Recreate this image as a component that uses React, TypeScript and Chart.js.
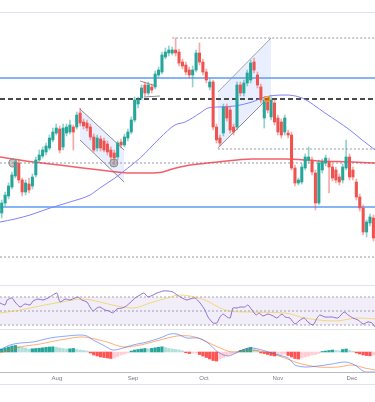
import React, { useEffect, useRef } from 'react';
import { Chart, registerables } from 'chart.js';

Chart.register(...registerables);

// ---- candles (arbitrary price units) ----
const candleOpen = [87,97,104,113,124,137,120,108,116,114, 125,140,144,148,152,160,167,171,153,167, 168,173,173,187,178,177,173,163,152,161, 159,156,150,147,143,158,155,162,168,180, 196,202,215,207,213,213,225,228,243,247, 247,250,248,238,235,230,225,230,247,238, 228,213,218,173,162,167,193,190,173,173, 215,207,217,220,238,225,213,182,200,183, 197,182,178,168,167,165,132,117,118,132, 140,140,127,97,130,137,138,133,130,123, 120,132,143,130,118,103,92,68,77,82];
const candleClose = [97,105,114,125,138,120,108,117,110,123, 140,145,150,154,162,168,172,150,172,173, 175,168,185,177,174,172,163,150,162,152, 150,148,143,142,157,155,163,168,180,200, 200,212,207,215,210,226,230,245,248,250, 250,247,237,234,228,225,230,247,238,228, 220,218,173,160,157,193,182,170,168,215, 207,217,227,237,230,215,200,200,190,200, 178,168,165,182,165,132,117,120,133,143, 143,128,97,137,138,142,133,122,120,118, 133,143,123,123,103,92,68,78,83,62];
const candleHigh = [100,108,117,128,140,140,122,120,122,126, 143,150,153,157,165,172,176,174,176,176, 180,175,188,192,181,180,176,166,165,164, 162,159,153,150,159,161,166,171,183,203, 203,215,218,218,216,229,233,248,252,254, 253,262,251,241,238,233,234,250,257,241, 231,221,220,176,165,196,196,193,176,218, 218,220,230,240,242,228,216,203,203,203, 200,185,181,185,170,168,135,122,136,146, 153,143,130,140,141,145,142,136,133,126, 136,160,146,133,121,106,95,80,86,85];
const candleLow = [82,94,101,111,122,117,104,105,107,111, 123,138,142,145,150,158,165,147,150,164, 166,150,171,174,171,169,160,148,149,149, 148,145,140,135,140,152,153,159,166,178, 192,200,204,205,207,211,223,226,241,244, 245,244,234,231,225,222,213,228,235,225, 217,210,170,157,154,164,179,167,165,170, 204,204,214,217,227,212,197,172,187,180, 175,165,162,165,162,130,114,115,116,130, 137,125,90,95,127,134,107,119,117,115, 117,130,120,120,100,89,65,63,74,59];

// ---- moving averages [bar index, value] ----
const maFast = [[-0.5,78],[3.9,81],[8.3,85],[14.2,92],[20,98],[25.9,105],[28.8,112],[33.2,122],[37,132],[40.6,142],[46.4,162],[50.8,175],[53.8,178],[58.2,187],[60.5,192],[63.4,193],[68.4,194],[73.4,198],[77.2,203],[83.1,205],[88.1,202],[94.8,187],[102.1,170],[105.7,160],[109.5,150]];
const maSlow = [[-0.5,143],[9.3,138],[19.2,134],[28.8,130],[33.8,128],[37,127],[42.6,127],[47.3,128],[50,131],[53.8,134],[63.4,138],[73.4,141],[83.1,141],[92.8,139],[102.7,138],[109.5,137]];

// ---- drawn levels (value, start index) ----
const blueLevels = [222, 93];
const dashedLevel = 201;
const dottedLevels = [[262, 50], [151, 63.4], [137, -0.5], [43, -0.5]];

// ---- drawings ----
const descUpper = [[22.96,191],[35.9,150]];
const descLower = [[22.96,160],[35.9,118]];
const riseUpper = [[63.4,208],[79,262]];
const riseLower = [[63.4,152],[79,205]];
const flagUpper = [[40.6,219],[45.2,214]];
const flagLower = [[41.7,203],[46.4,204]];
const circleMarks = [[3.3,137],[32.9,137]];
const boxMarks = [[77.8,201]];

// ---- RSI ----
const rsiLine = [[-0.5,61.4],[1,58.6],[1.6,65.7],[3,68.6],[3.9,62.9],[5.4,55.7],[6.8,60],[8.3,58.6],[9.2,64.3],[10.6,67.1],[12.1,65.7],[13.6,68.6],[15,72.9],[16.2,75.7],[17.1,62.9],[18.6,67.1],[20,65.7],[21.5,68.6],[22.4,70],[23.5,65.7],[25,62.9],[25.9,55.7],[26.8,50],[27.9,54.3],[28.8,55.7],[30.3,51.4],[31.5,50],[32.6,47.1],[33.8,52.9],[35.3,54.3],[36.5,57.1],[37.9,62.9],[39.1,68.6],[40.6,72.9],[41.7,75.7],[42.9,70],[44.4,72.9],[45.5,75.7],[46.4,77.1],[47.3,78.6],[48.8,78.6],[50.2,77.1],[51.4,72.9],[52.9,68.6],[54.3,65.7],[55.2,67.1],[56.7,68.6],[58.2,61.4],[59.6,51.4],[60.5,41.4],[62,32.9],[63.1,32.9],[64,41.4],[64.9,45.7],[66.1,41.4],[67,40],[67.8,54.3],[69,54.3],[69.9,55.7],[71.3,55.7],[72.2,58.6],[73.4,51.4],[74.6,44.3],[75.5,47.1],[76.6,42.9],[78.1,45.7],[79.6,42.9],[80.7,40],[82.2,45.7],[83.1,41.4],[84.5,40],[86,31.4],[87.5,37.1],[88.7,40],[89.8,34.3],[91.3,30],[92.5,40],[93.3,44.3],[94.8,41.4],[96.9,41.4],[98.6,40],[100.4,48.6],[101.6,44.3],[103,40],[104.5,37.1],[106,31.4],[107.4,34.3],[108.6,32.9],[109.5,27.1]];
const rsiAvg = [[-0.5,47.1],[5.4,51.4],[11.2,57.1],[19.1,64.3],[23.8,67.1],[28.8,62.9],[33.8,57.1],[38.5,54.3],[43.5,61.4],[48.5,68.6],[52.3,72.9],[55.2,71.4],[59.6,65.7],[65.5,51.4],[71.3,48.6],[83.1,47.1],[88.9,40],[97.7,35.7],[104.5,40],[109.5,38.6]];
const rsiBands = [70, 50, 30];

// ---- MACD ----
const macdLine = [[-0.5,2],[2.4,7],[5.4,9],[9.2,10],[14.2,14],[19.1,16],[23,17],[25,16],[26.8,12],[29.7,7],[32.6,2],[35.6,4],[38.5,7],[42.6,10],[46.4,14],[49.4,18],[51.4,18],[54.3,14],[57.6,14],[60.5,9],[63.4,0],[66.4,-4],[69.3,0],[72.2,4],[73.7,4],[76.3,2],[80.1,-2],[84,-6],[86,-13],[88.9,-15],[92.8,-14],[96.9,-12],[100.7,-10],[103.6,-13],[106.5,-20],[109.5,-20]];
const signalLine = [[-0.5,-1],[5.4,5],[11.2,8],[17.1,12],[23,15],[25.9,14],[30.9,10],[35.6,5],[40.6,7],[46.4,12],[51.4,16],[55.2,16],[57.6,14],[63.4,5],[67.5,0],[72.2,2],[77.2,0],[82.2,-5],[86.9,-11],[92.8,-15],[98.6,-15],[102.7,-13],[106.5,-16],[109.5,-18]];
const macdHist = [3,4,5,6,6.5, 5.5,4.5,4,3, 3.2,3.5,3.8, 4.2,4.6,5,5.2,4.8, 4,3.5,3, 3.2,3.5, 2.5,2,1.5,1, -1,-3, -4,-5,-5.5,-6,-6.5,-6, -4.5,-3,-2,-1, 1,2,2.5,3,3.5, 3.2,3.6,4.2,4.8,5.2,4.5,3.5,3,2.5,2,1.2, -0.8,-1.5,-1.2,-1,-2.5,-4,-5.5,-7,-8.5,-9,-7,-5.5,-4,-2.5,-1.5,-1, 1.5,2.5,3.5,4.5,3,2, -1,-1.5,-2.5,-3.5,-4,-3,-2.5,-2,-3.5,-5,-6.5,-7,-6,-5,-4,-3,-2.5,-1.5, 0.5,1,1.5,2,1.5,1.2,2.5,3,1.5,0.8, -1,-2,-3,-3.5,-3.8,-3];

// ---- time axis ----
const tickLabels = ['Aug', 'Sep', 'Oct', 'Nov', 'Dec'];
const tickIndex = [16.2, 38.5, 59.3, 81, 102.7];

const X_MIN = -0.5;
const X_MAX = 109.47;
const FONT = 'Liberation Sans';

const pts = (a: number[][]) => a.map(([x, y]) => ({ x, y }));
const hl = (y: number, x0 = X_MIN) => [{ x: x0, y }, { x: X_MAX + 1, y }];

const line = (data: any[], color: string, width: number, extra: any = {}) => ({
  type: 'line', data, borderColor: color, borderWidth: width, pointRadius: 0, tension: 0, order: 3, ...extra,
});

const xHidden = { type: 'linear', min: X_MIN, max: X_MAX, display: false, offset: false };

const borders = (ys: (c: any) => { y: number; color: string }[]) => ({
  id: 'paneBorders',
  afterDraw(chart: any) {
    const { ctx, width } = chart;
    ctx.save();
    ctx.lineWidth = 1;
    for (const l of ys(chart)) {
      ctx.strokeStyle = l.color;
      ctx.beginPath();
      ctx.moveTo(0, l.y);
      ctx.lineTo(width, l.y);
      ctx.stroke();
    }
    ctx.restore();
  },
});

const common = {
  animation: false,
  responsive: true,
  maintainAspectRatio: false,
  events: [],
  plugins: { legend: { display: false }, tooltip: { enabled: false } },
};

export default function App() {
  const mainRef = useRef<HTMLCanvasElement>(null);
  const rsiRef = useRef<HTMLCanvasElement>(null);
  const macdRef = useRef<HTMLCanvasElement>(null);

  useEffect(() => {
    const idx = candleOpen.map((_, i) => i);
    const up = (i: number) => candleClose[i] >= candleOpen[i];

    const main = new Chart(mainRef.current!, {
      type: 'bar',
      data: {
        datasets: [
          {
            type: 'bar', data: idx.map((i) => ({ x: i, y: [candleOpen[i], candleClose[i]] })),
            backgroundColor: (c: any) => (up(c.dataIndex) ? '#26a69a' : '#ef5350'),
            barThickness: 2.4, grouped: false, minBarLength: 1, order: 1,
          },
          {
            type: 'bar', data: idx.map((i) => ({ x: i, y: [candleLow[i], candleHigh[i]] })),
            backgroundColor: (c: any) => (up(c.dataIndex) ? 'rgba(38,166,154,0.5)' : 'rgba(239,83,80,0.5)'),
            barThickness: 1, grouped: false, order: 2,
          },
          line(pts(maFast), '#8080ff', 1, { tension: 0.4, cubicInterpolationMode: 'monotone' }),
          line(pts(maSlow), 'rgba(242,54,69,0.8)', 1.5, { tension: 0.4, cubicInterpolationMode: 'monotone' }),
          ...blueLevels.map((v) => line(hl(v), '#5c9df5', 1.3, { order: 4 })),
          line(hl(dashedLevel), '#4a4a4a', 2, { borderDash: [5, 3], order: 4 }),
          ...dottedLevels.map(([v, x0]) => line(hl(v, x0), '#9598a1', 1, { borderDash: [2, 2], order: 4 })),
          line(pts(descUpper), '#8a8d96', 1, { order: 5 }),
          line(pts(descLower), '#8a8d96', 1, { order: 5, fill: '-1', backgroundColor: 'rgba(41,98,255,0.1)' }),
          line(pts(riseUpper), '#a0a3ab', 1, { order: 5 }),
          line(pts(riseLower), '#8a8d96', 1, { order: 5, fill: '-1', backgroundColor: 'rgba(41,98,255,0.1)' }),
          line(pts(flagUpper), '#8a8d96', 1, { order: 5 }),
          line(pts(flagLower), '#8a8d96', 1, { order: 5 }),
          {
            type: 'line', data: pts(circleMarks), showLine: false, pointRadius: 4,
            pointBackgroundColor: 'rgba(130,130,130,0.45)', pointBorderColor: '#8a8a8a', pointBorderWidth: 1, order: 0,
          },
          {
            type: 'line', data: pts(boxMarks), showLine: false, pointRadius: 3.5, pointStyle: 'rect',
            pointBackgroundColor: 'rgba(255,152,0,0.3)', pointBorderColor: '#f59a23', pointBorderWidth: 1, order: 0,
          },
        ] as any,
      },
      options: {
        ...common,
        layout: { autoPadding: false, padding: { top: 12, left: 0, right: 0, bottom: 0 } },
        scales: { x: xHidden as any, y: { display: false, min: 15, max: 288 } },
      } as any,
      plugins: [borders((c) => [{ y: Math.round(c.chartArea.top) + 0.5, color: '#e0e3eb' }])],
    });

    const rsi = new Chart(rsiRef.current!, {
      type: 'line',
      data: {
        datasets: [
          line(hl(rsiBands[0]), '#a3a6af', 1, { borderDash: [2, 2], order: 5 }),
          line(hl(rsiBands[2]), '#a3a6af', 1, { borderDash: [2, 2], order: 5, fill: { target: { value: rsiBands[0] } }, backgroundColor: 'rgba(126,87,194,0.1)' }),
          line(hl(rsiBands[1]), '#a3a6af', 1, { borderDash: [2, 2], order: 5 }),
          line(pts(rsiAvg), 'rgba(240,200,40,0.6)', 1, { tension: 0.4, cubicInterpolationMode: 'monotone', order: 2 }),
          line(pts(rsiLine), '#8e6fcf', 1, { tension: 0.2, order: 1 }),
        ] as any,
      },
      options: {
        ...common,
        layout: { autoPadding: false, padding: 0 },
        scales: { x: xHidden as any, y: { display: false, min: 24.29, max: 87.14 } },
      } as any,
      plugins: [borders(() => [{ y: 0.5, color: '#e0e3eb' }])],
    });

    const histColor = (c: any) => {
      const i = c.dataIndex;
      const v = macdHist[i];
      const p = i > 0 ? macdHist[i - 1] : 0;
      if (v >= 0) return v >= p ? '#26a69a' : '#b2dfdb';
      return v <= p ? '#ff5252' : '#ffcdd2';
    };

    const macd = new Chart(macdRef.current!, {
      type: 'bar',
      data: {
        datasets: [
          line(pts(macdLine), 'rgba(41,98,255,0.55)', 1, { tension: 0.3, order: 1 }),
          line(pts(signalLine), 'rgba(255,109,0,0.55)', 1, { tension: 0.3, order: 2 }),
          {
            type: 'bar', data: macdHist.map((v, i) => ({ x: i, y: v })),
            backgroundColor: histColor, barThickness: 2.6, grouped: false, order: 3,
          },
        ] as any,
      },
      options: {
        ...common,
        layout: { autoPadding: false, padding: 0 },
        scales: {
          x: {
            type: 'linear', min: X_MIN, max: X_MAX, offset: false,
            grid: { display: false, drawTicks: false },
            border: { display: false },
            afterBuildTicks: (s: any) => { s.ticks = tickIndex.map((v) => ({ value: v })); },
            afterFit: (s: any) => { s.height = 13; },
            ticks: {
              autoSkip: false, maxRotation: 0, padding: 3, color: '#787b86',
              font: { size: 6, family: FONT },
              callback: (v: any) => { const k = tickIndex.indexOf(v); return k >= 0 ? tickLabels[k] : ''; },
            },
          },
          y: { display: false, min: -20, max: 23 },
        },
      } as any,
      plugins: [borders((c) => [
        { y: 0.5, color: '#e0e3eb' },
        { y: Math.round(c.chartArea.bottom) + 0.5, color: '#b8bbc2' },
        { y: c.height - 0.5, color: '#e0e3eb' },
      ])],
    });

    return () => { main.destroy(); rsi.destroy(); macd.destroy(); };
  }, []);

  return (
    <div style={{ position: 'absolute', left: 0, top: 0, width: 375, height: 402, background: '#ffffff' }}>
      <div style={{ position: 'relative', width: 375, height: 285 }}><canvas ref={mainRef} /></div>
      <div style={{ position: 'relative', width: 375, height: 44 }}><canvas ref={rsiRef} /></div>
      <div style={{ position: 'relative', width: 375, height: 56 }}><canvas ref={macdRef} /></div>
    </div>
  );
}
